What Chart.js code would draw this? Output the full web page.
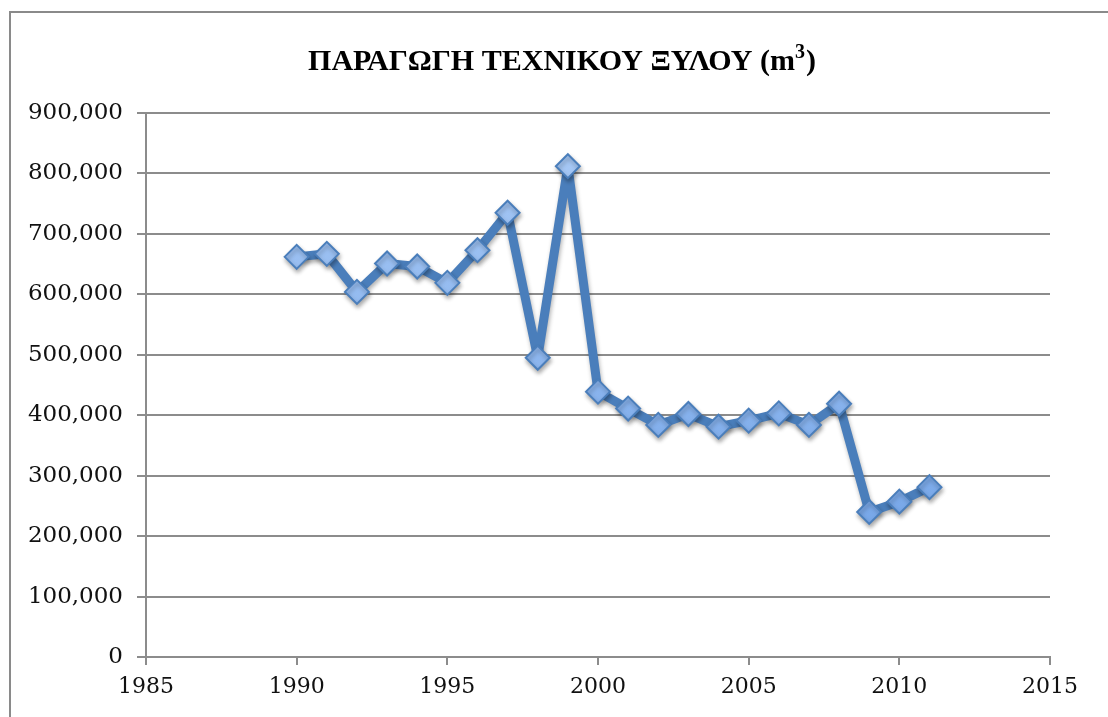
<!DOCTYPE html>
<html>
<head>
<meta charset="utf-8">
<script src="https://cdn.jsdelivr.net/npm/chart.js@4"></script>
<style>
  html, body { margin: 0; padding: 0; background: #fff; }
  #wrap { position: relative; width: 1108px; height: 717px; }
</style>
</head>
<body>
<div id="wrap"><canvas id="chart" width="1108" height="717"></canvas></div>
<script>
// timber production, m3 per year
const years = [1990, 1991, 1992, 1993, 1994, 1995, 1996, 1997, 1998, 1999, 2000,
               2001, 2002, 2003, 2004, 2005, 2006, 2007, 2008, 2009, 2010, 2011];
const production = [662000, 667000, 604000, 651000, 646000, 619000, 673000, 735000, 495000, 812000, 439000,
                    411000, 384000, 402000, 381000, 391000, 403000, 384000, 419000, 240000, 257000, 281000];
const titleText = 'ΠΑΡΑΓΩΓΗ ΤΕΧΝΙΚΟΥ ΞΥΛΟΥ (m';
const titleSup = '3';

const lineBlue = '#4a7ebb';
const gridGray = '#8c8c8c';

const ctx = document.getElementById('chart').getContext('2d');

// light gradient for the diamond markers
const markerFill = ctx.createLinearGradient(0, 140, 0, 540);
markerFill.addColorStop(0, '#a8c9f5');
markerFill.addColorStop(1, '#76a6e8');

const frame = {
    id: 'frame',
    beforeDraw(chart) {
        const c = chart.ctx;
        c.save();
        c.fillStyle = '#fff';
        c.fillRect(0, 0, chart.width, chart.height);
        c.strokeStyle = '#8a8a8a';
        c.lineWidth = 2;
        c.beginPath();
        c.moveTo(10, chart.height);
        c.lineTo(10, 12);
        c.lineTo(chart.width, 12);
        c.stroke();
        c.restore();
    },
    afterDraw(chart) {
        // title with a real superscript 3, centred like the original
        const c = chart.ctx;
        c.save();
        c.fillStyle = '#000';
        c.textBaseline = 'alphabetic';
        const big = 'bold 30px "Liberation Serif"';
        const small = 'bold 20px "Liberation Serif"';
        c.font = big;
        const w1 = c.measureText(titleText).width;
        const w3 = c.measureText(')').width;
        c.font = small;
        const w2 = c.measureText(titleSup).width + 1;
        let x = 562 - (w1 + w2 + w3) / 2;
        c.font = big;
        c.fillText(titleText, x, 70);
        x += w1;
        c.font = small;
        c.fillText(titleSup, x, 58);
        x += w2;
        c.font = big;
        c.fillText(')', x, 70);
        c.restore();
    }
};

const shadow = {
    id: 'shadow',
    beforeDatasetsDraw(chart) {
        const c = chart.ctx;
        c.save();
        c.shadowColor = 'rgba(0,0,0,0.3)';
        c.shadowBlur = 4;
        c.shadowOffsetX = 1;
        c.shadowOffsetY = 3;
    },
    afterDatasetsDraw(chart) {
        chart.ctx.restore();
    }
};

new Chart(ctx, {
    type: 'line',
    data: {
        datasets: [{
            data: years.map((y, i) => ({ x: y, y: production[i] })),
            borderColor: lineBlue,
            borderWidth: 9,
            borderJoinStyle: 'round',
            tension: 0,
            pointStyle: 'rectRot',
            pointRadius: 12,
            pointBackgroundColor: markerFill,
            pointBorderColor: lineBlue,
            pointBorderWidth: 2
        }]
    },
    options: {
        responsive: false,
        animation: false,
        layout: { padding: { left: 0, right: 58, top: 113, bottom: 0 } },
        plugins: {
            legend: { display: false },
            tooltip: { enabled: false },
            title: { display: false }
        },
        scales: {
            x: {
                type: 'linear',
                min: 1985,
                max: 2015,
                afterFit(scale) { scale.height = 60; },
                ticks: {
                    stepSize: 5,
                    color: '#111',
                    padding: 9,
                    font: { family: 'DejaVu Serif', size: 22 },
                    callback: v => String(v)
                },
                grid: { drawOnChartArea: false, drawTicks: true, tickLength: 8, color: gridGray, lineWidth: 2 },
                border: { color: gridGray, width: 2 }
            },
            y: {
                min: 0,
                max: 900000,
                afterFit(scale) { scale.width = 146; },
                ticks: {
                    stepSize: 100000,
                    color: '#111',
                    padding: 14,
                    font: { family: 'DejaVu Serif', size: 23 },
                    callback: v => v.toLocaleString('en-US')
                },
                grid: { color: gridGray, lineWidth: 2, tickLength: 9 },
                border: { color: gridGray, width: 2 }
            }
        }
    },
    plugins: [frame, shadow]
});
</script>
</body>
</html>
